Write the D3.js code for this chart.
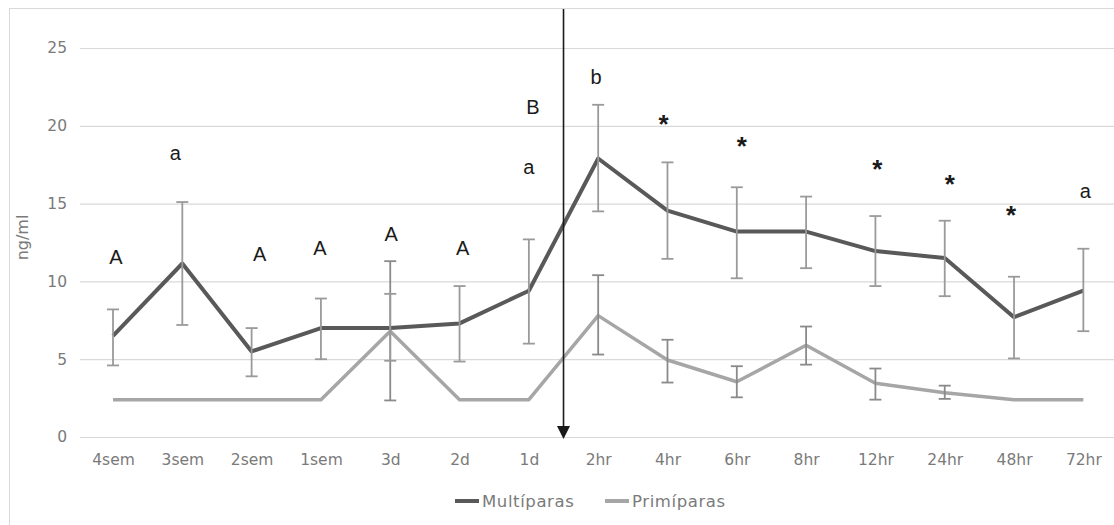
<!DOCTYPE html>
<html>
<head>
<meta charset="utf-8">
<script src="https://cdn.jsdelivr.net/npm/d3@7"></script>
<style>
  html, body { margin: 0; padding: 0; background: #fff; }
  svg { display: block; }
</style>
</head>
<body>
<svg id="chart" width="1114" height="525"></svg>
<script>
// ---------- DATA ----------
const categories = ["4sem","3sem","2sem","1sem","3d","2d","1d","2hr","4hr","6hr","8hr","12hr","24hr","48hr","72hr"];
const seriesNames = ["Multíparas","Primíparas"];

const multiMean  = [6.5, 11.15, 5.5, 7.0, 7.0, 7.3, 9.4, 17.9, 14.55, 13.2, 13.2, 11.95, 11.5, 7.7, 9.4];
const multiUpper = [8.2, 15.1, 7.0, 8.9, 9.2, 9.7, 12.7, 21.35, 17.65, 16.05, 15.45, 14.2, 13.9, 10.3, 12.1];
const multiLower = [4.6, 7.2, 3.9, 5.0, 4.9, 4.85, 6.0, 14.5, 11.45, 10.2, 10.85, 9.7, 9.05, 5.05, 6.8];

const primiMean  = [2.4, 2.4, 2.4, 2.4, 6.8, 2.4, 2.4, 7.8, 4.95, 3.55, 5.9, 3.45, 2.85, 2.4, 2.4];
const primiUpper = [null, null, null, null, 11.3, null, null, 10.4, 6.25, 4.55, 7.1, 4.4, 3.3, null, null];
const primiLower = [null, null, null, null, 2.35, null, null, 5.3, 3.5, 2.55, 4.65, 2.4, 2.45, null, null];

const yTicks = [0, 5, 10, 15, 20, 25];
const yTitle = "ng/ml";

// annotations: [category, label, value (baseline position in ng/ml)]
const annotations = [
  ["4sem","A",11.09], ["3sem","a",17.8], ["2sem","A",11.31], ["1sem","A",11.70],
  ["3d","A",12.60], ["2d","A",11.70], ["1d","B",20.79], ["1d","a",16.90],
  ["2hr","b",22.69], ["4hr","*",19.63], ["6hr","*",18.24], ["12hr","*",16.74],
  ["24hr","*",15.78], ["48hr","*",13.79], ["72hr","a",15.39]
];
// event marker (between "1d" and "2hr")
const eventBetween = ["1d","2hr"];

// ---------- LAYOUT ----------
const labelDx = [3, -7, 8, -1, 1, 3, 4, 0, -2, -4, 5, 2, 5, -3, 2];
const svg = d3.select("#chart");
const W = 1114, H = 525;

const x = d3.scalePoint().domain(categories).range([78.35, 1118]).padding(0.5);
const y = d3.scaleLinear().domain([0, 25]).range([437, 48]);

// outer border
svg.append("rect").attr("x", 9.5).attr("y", 8.5).attr("width", W).attr("height", H)
  .attr("fill", "none").attr("stroke", "#d9d9d9").attr("stroke-width", 1);

// gridlines
const yAxis = d3.axisLeft(y).tickValues(yTicks).tickSize(-(1114 - 80)).tickPadding(13);
const gy = svg.append("g").attr("transform", "translate(80,0)").call(yAxis);
gy.select(".domain").remove();
gy.selectAll(".tick line").attr("stroke", "#d9d9d9").attr("stroke-width", 1.2);
gy.selectAll(".tick text").attr("fill", "#7a7a7a")
  .style("font-family", "'DejaVu Sans', sans-serif").style("font-size", "15.5px");

// x axis labels
const xAxis = d3.axisBottom(x).tickSize(0).tickPadding(17);
const gx = svg.append("g").attr("transform", "translate(0,437)").call(xAxis);
gx.select(".domain").remove();
gx.selectAll(".tick text").attr("fill", "#7a7a7a")
  .style("font-family", "'DejaVu Sans', sans-serif").style("font-size", "15.5px");

// y title
svg.append("text").attr("transform", `translate(28,${(y(0)+y(25))/2 - 5}) rotate(-90)`)
  .attr("text-anchor", "middle").attr("fill", "#7a7a7a")
  .style("font-family", "'DejaVu Sans', sans-serif").style("font-size", "16px")
  .text(yTitle);

// lines
const line = d3.line().x((d, i) => x(categories[i])).y(d => y(d));
svg.append("path").datum(primiMean).attr("d", line).attr("fill", "none")
  .attr("stroke", "#a6a6a6").attr("stroke-width", 3.5).attr("stroke-linejoin", "round");
svg.append("path").datum(multiMean).attr("d", line).attr("fill", "none")
  .attr("stroke", "#595959").attr("stroke-width", 4).attr("stroke-linejoin", "round");

// error bars
function errorBars(upper, lower, color) {
  const data = categories.map((c, i) => ({c, u: upper[i], l: lower[i]})).filter(d => d.u != null);
  const g = svg.append("g").attr("stroke", color).attr("stroke-width", 1.8).attr("fill", "none");
  g.selectAll(".v").data(data).enter().append("line")
    .attr("x1", d => x(d.c)).attr("x2", d => x(d.c)).attr("y1", d => y(d.u)).attr("y2", d => y(d.l));
  g.selectAll(".t").data(data).enter().append("line")
    .attr("x1", d => x(d.c) - 6).attr("x2", d => x(d.c) + 6).attr("y1", d => y(d.u)).attr("y2", d => y(d.u));
  g.selectAll(".b").data(data).enter().append("line")
    .attr("x1", d => x(d.c) - 6).attr("x2", d => x(d.c) + 6).attr("y1", d => y(d.l)).attr("y2", d => y(d.l));
}
errorBars(primiUpper, primiLower, "#8a8a8a");
errorBars(multiUpper, multiLower, "#9a9a9a");

// event arrow
const ax = (x(eventBetween[0]) + x(eventBetween[1])) / 2;
svg.append("line").attr("x1", ax).attr("x2", ax).attr("y1", 9).attr("y2", 428)
  .attr("stroke", "#1a1a1a").attr("stroke-width", 1.6);
svg.append("path").attr("d", `M${ax-6.5},${426} L${ax+6.5},${426} L${ax},${439} Z`).attr("fill", "#1a1a1a");

// annotations
svg.append("g").selectAll("text").data(annotations).enter().append("text")
  .attr("x", (d, i) => x(d[0]) + labelDx[i])
  .attr("y", d => y(d[2]) + (d[1] === "*" ? 1.5 : 0))
  .attr("text-anchor", "middle").attr("fill", "#1a1a1a")
  .style("font-family", "'Liberation Sans', Arial, sans-serif")
  .style("font-size", d => d[1] === "*" ? "26px" : "20px")
  .style("font-weight", d => d[1] === "*" ? "bold" : "normal")
  .text(d => d[1]);

// legend
const legendColors = ["#595959", "#a6a6a6"];
const legendX = [455, 605];
const lg = svg.append("g");
seriesNames.forEach((name, i) => {
  lg.append("line").attr("x1", legendX[i]).attr("x2", legendX[i] + 24).attr("y1", 501).attr("y2", 501)
    .attr("stroke", legendColors[i]).attr("stroke-width", 4);
  lg.append("text").attr("x", legendX[i] + 27).attr("y", 507).attr("fill", "#7a7a7a")
    .style("font-family", "'DejaVu Sans', sans-serif").style("font-size", "16.5px")
    .style("letter-spacing", "0.6px").text(name);
});
</script>
</body>
</html>
